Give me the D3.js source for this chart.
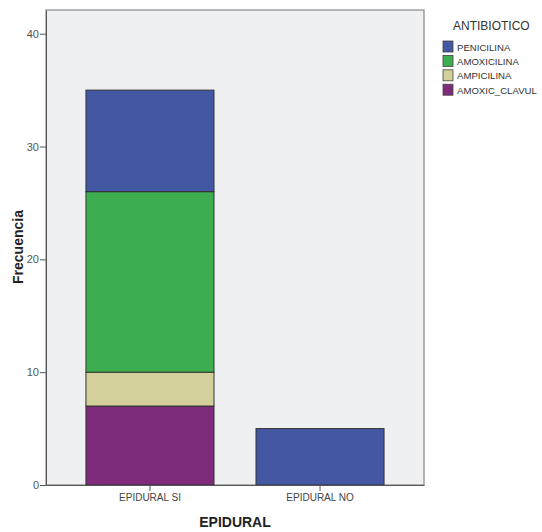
<!DOCTYPE html>
<html><head><meta charset="utf-8">
<script src="https://cdn.jsdelivr.net/npm/d3@7"></script>
<style>body{margin:0;background:#fff}svg{display:block}text{font-family:"Liberation Sans",Arial,sans-serif}</style>
</head><body>
<svg id="c" width="542" height="532"></svg>
<script>
const categories = ["EPIDURAL SI", "EPIDURAL NO"];
const seriesNames = ["PENICILINA", "AMOXICILINA", "AMPICILINA", "AMOXIC_CLAVUL"];
const seriesColors = ["#4457a2", "#3dae4f", "#d3d09b", "#7e2b7c"];
// values per series, order matching categories
const PENICILINA = [9, 5];
const AMOXICILINA = [16, 0];
const AMPICILINA = [3, 0];
const AMOXIC_CLAVUL = [7, 0];
const yTicks = [0, 10, 20, 30, 40];

const svg = d3.select("#c");
const m = {l: 46, t: 10, r: 424, b: 485};
const x = d3.scaleBand().domain(categories).range([m.l, m.r]).paddingInner(0.247).paddingOuter(0.235);
const y = d3.scaleLinear().domain([0, 42.1]).range([m.b, m.t]);

svg.append("rect").attr("x", m.l).attr("y", m.t).attr("width", m.r - m.l).attr("height", m.b - m.t)
  .attr("fill", "#eff0f2").attr("stroke", "#888").attr("stroke-width", 1.2);

const table = categories.map((c, i) => ({cat: c, AMOXIC_CLAVUL: AMOXIC_CLAVUL[i], AMPICILINA: AMPICILINA[i], AMOXICILINA: AMOXICILINA[i], PENICILINA: PENICILINA[i]}));
const stackKeys = ["AMOXIC_CLAVUL", "AMPICILINA", "AMOXICILINA", "PENICILINA"];
const stacked = d3.stack().keys(stackKeys)(table);
const color = d3.scaleOrdinal().domain(seriesNames).range(seriesColors);

stacked.forEach(s => {
  svg.append("g").selectAll("rect").data(s.filter(d => d[1] - d[0] > 0)).join("rect")
    .attr("x", d => x(d.data.cat)).attr("width", x.bandwidth())
    .attr("y", d => y(d[1])).attr("height", d => y(d[0]) - y(d[1]))
    .attr("fill", color(s.key)).attr("stroke", "#333").attr("stroke-width", 1);
});

// axes
const ya = svg.append("g").attr("transform", `translate(${m.l},0)`)
  .call(d3.axisLeft(y).tickValues(yTicks).tickSize(6).tickSizeOuter(0));
ya.select(".domain").attr("stroke", "#555");
ya.selectAll(".tick line").attr("stroke", "#555");
ya.selectAll(".tick text").attr("fill", "#555").attr("font-size", 11).attr("x", -7);

const xa = svg.append("g").attr("transform", `translate(0,${m.b})`)
  .call(d3.axisBottom(x).tickSize(6).tickSizeOuter(0));
xa.select(".domain").attr("stroke", "#555");
xa.selectAll(".tick line").attr("stroke", "#555");
xa.selectAll(".tick text").attr("fill", "#444").attr("font-size", 10).attr("y", 9);

svg.append("text").attr("x", (m.l + m.r) / 2).attr("y", 527).attr("text-anchor", "middle")
  .attr("font-size", 14).attr("font-weight", "bold").attr("fill", "#222").text("EPIDURAL");
svg.append("text").attr("transform", "translate(23,247) rotate(-90)").attr("text-anchor", "middle")
  .attr("font-size", 14).attr("font-weight", "bold").attr("fill", "#222").text("Frecuencia");

// legend
const lg = svg.append("g");
lg.append("text").attr("x", 453).attr("y", 30).attr("font-size", 12).attr("fill", "#333").text("ANTIBIOTICO");
seriesNames.forEach((n, i) => {
  const yy = 41 + i * 14.4;
  lg.append("rect").attr("x", 443).attr("y", yy).attr("width", 10).attr("height", 11)
    .attr("fill", seriesColors[i]).attr("stroke", "#444").attr("stroke-width", 0.8);
  lg.append("text").attr("x", 457).attr("y", yy + 9.5).attr("font-size", 9.6).attr("fill", "#333").text(n);
});
</script>
</body></html>
